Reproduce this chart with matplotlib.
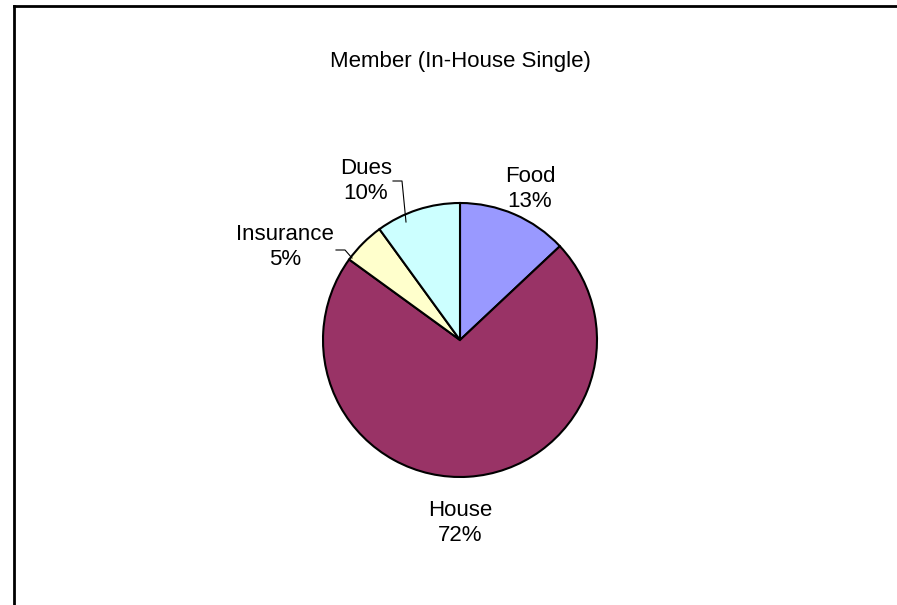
import matplotlib
matplotlib.use("Agg")
import matplotlib.pyplot as plt
from matplotlib.lines import Line2D

plt.rcParams['font.family'] = ['Liberation Sans', 'DejaVu Sans']

# data
labels = ["Food", "House", "Insurance", "Dues"]
shares = [13, 72, 5, 10]
colors = ["#9999FF", "#993366", "#FFFFCC", "#CCFFFF"]

W, H = 897, 605
fig = plt.figure(figsize=(W / 100, H / 100), dpi=100)
ax = fig.add_axes([0, 0, 1, 1])

cx, cy, r = 460, 340, 137
wedges, _ = ax.pie(shares, colors=colors, startangle=90, counterclock=False,
                   center=(cx, cy), radius=r,
                   wedgeprops=dict(edgecolor="black", linewidth=1.5))
# y axis runs downward (pixel-like), so mirror the wedge angles
for w in wedges:
    t1, t2 = w.theta1, w.theta2
    w.set_theta1(-t2)
    w.set_theta2(-t1)
ax.set_xlim(0, W)
ax.set_ylim(H, 0)
ax.set_aspect("equal")
ax.axis("off")

# label block centres (pixel coords)
label_pos = {
    "Food": (530, 189),
    "House": (460, 523),
    "Insurance": (285, 247),
    "Dues": (366, 181),
}
for lab, val in zip(labels, shares):
    x, y = label_pos[lab]
    ax.text(x, y, f"{lab}\n{val}%", ha="center", va="center", fontsize=16,
            linespacing=1.3)

# leader lines
ax.plot([393, 402, 406], [181, 181, 222], color="black", lw=0.8)
ax.plot([336, 345, 352], [250, 250, 258], color="black", lw=0.8)

ax.text(460, 61, "Member (In-House Single)", ha="center", va="center",
        fontsize=16)

# outer frame (cropped chart border)
fig.add_artist(Line2D([14 / W, 1.01], [1 - 6 / H, 1 - 6 / H],
                      transform=fig.transFigure, color="black", lw=2.0))
fig.add_artist(Line2D([14 / W, 14 / W], [1 - 6 / H, -0.01],
                      transform=fig.transFigure, color="black", lw=2.0))

fig.savefig("out.png", dpi=100)
